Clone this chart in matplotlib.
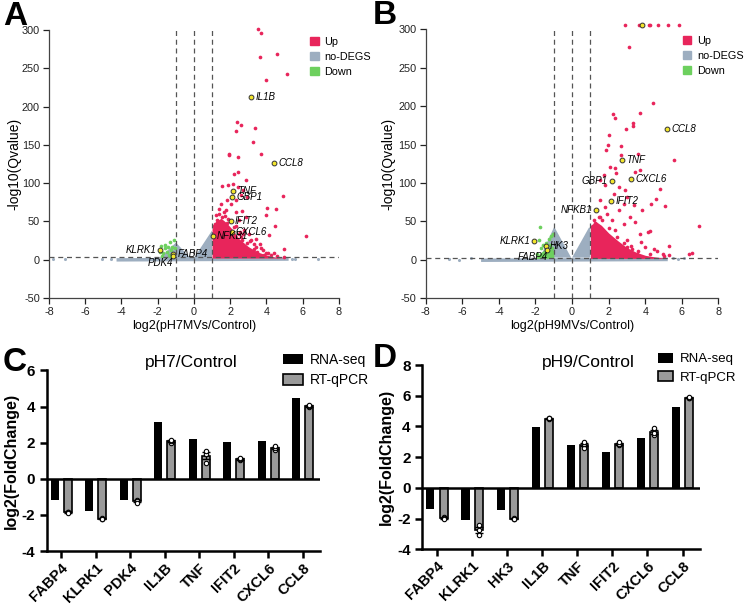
import numpy as np
import matplotlib.pyplot as plt
from matplotlib.patches import Patch

plt.rcParams['font.family'] = ['Liberation Sans', 'DejaVu Sans']
plt.rcParams['axes.unicode_minus'] = False

RED = "#E8255B"
GREY = "#9DAEC0"
GREEN = "#6DD05E"
YEL = "#F3E62C"

# ---------------- volcano A (pH7) ----------------
a_up_x = [3.54, 3.68, 4.57, 3.66, 5.12, 3.98, 2.39, 2.58, 3.35, 2.32, 3.26, 1.95, 1.95, 3.70,
          2.41, 2.45, 2.19, 2.87, 4.90, 1.55, 1.86, 2.15, 2.43, 2.73, 2.58, 2.95, 2.32, 1.84,
          1.47, 2.03, 1.38, 1.75, 2.30, 2.67, 2.85, 2.47, 4.53, 4.03, 3.96, 4.46, 4.16, 6.19,
          4.98, 3.96, 3.41, 3.04, 3.65, 2.95, 3.31, 3.87, 4.24, 4.60, 4.97, 3.50, 3.22, 2.67,
          2.76, 2.21, 2.49, 1.84, 1.57, 1.29, 1.10, 1.20, 1.65, 2.60, 3.10, 3.80, 4.40,
          1.40, 1.70, 2.00, 2.30, 2.70, 3.30, 3.70, 4.10, 1.15, 1.90, 2.55, 3.15, 3.45]
a_up_y = [301, 296.6, 268.6, 264.7, 243.3, 234.6, 179.7, 175.8, 172.7, 167.5, 153.5, 138.7,
          136.5, 138.2, 134.3, 114.7, 112.5, 104.2, 83.3, 96.8, 98.1, 99.4, 95, 90.7, 84, 82,
          77.6, 77.6, 73.3, 72.4, 66.7, 64.5, 62.4, 63.7, 55.8, 51.5, 66.7, 67.2, 58, 44, 31.8,
          30.5, 14, 9.2, 27.5, 34, 20, 21, 14.4, 5.7, 5.7, 4.4, 3.5, 10, 7.8, 25.3, 38.4, 42.7,
          34, 48, 55.8, 51.5, 44, 58, 62, 30, 24, 12, 8,
          60, 57, 50, 44, 33, 20, 15, 9, 47, 53, 36, 26, 17]
a_dense_x = [1.0, 1.2, 1.5, 1.8, 2.1, 2.5, 3.0, 3.5, 4.0, 4.5, 5.0]
a_dense_top = [40, 50, 54, 48, 40, 27, 17, 10, 6, 3, 2]
a_down_x = [-1.84, -1.58, -1.33, -1.10, -1.50, -1.70, -1.25, -1.40, -1.75, -1.20, -1.05,
            -1.60, -1.90, -1.30, -1.45]
a_down_y = [18, 14.8, 22.7, 25.3, 10, 8, 12, 6, 5, 17, 15, 19, 10, 4.5, 16]
a_nd_x = [-7.78, -7.14, -5.10, -4.60, 5.39, 5.60, 6.86]
a_nd_y = [1, 1, 1, 0.5, 1, 0.5, 1]
a_band = (-4.3, 5.2)
a_tri_left = ([-1.9, -1.0, -0.98, -0.2], [2, 22, 22, 2])
a_tri_right = ([0.0, 1.0, 1.0], [2, 38, 2])
a_lab_genes = ["IL1B", "CCL8", "TNF", "GBP1", "IFIT2", "CXCL6", "NFKB1", "KLRK1", "FABP4", "PDK4"]
a_lab_x = [3.17, 4.42, 2.14, 2.10, 2.03, 2.08, 1.03, -1.86, -1.14, -1.16]
a_lab_y = [212.8, 126, 90.3, 82, 50.6, 36.2, 30.5, 13, 7.8, 4.8]
a_lab_side = ["r", "r", "r", "r", "r", "r", "r", "l", "r", "bl"]

# ---------------- volcano B (pH9) ----------------
b_up_x = [2.91, 3.64, 4.19, 4.28, 4.68, 5.23, 5.85, 3.10, 4.43, 2.24, 2.33, 3.73, 2.97, 3.32,
          3.35, 2.04, 1.95, 1.88, 2.66, 2.70, 5.59, 3.59, 3.73, 3.46, 4.83, 4.59, 4.30, 5.10,
          6.92, 5.32, 6.56, 6.38, 2.09, 2.37, 1.73, 2.42, 1.55, 1.82, 2.55, 2.91, 2.28, 3.00,
          2.82, 1.55, 1.82, 2.55, 3.37, 3.83, 3.19, 2.82, 2.37, 3.46, 4.15, 4.24, 3.73, 3.00,
          3.77, 4.00, 4.46, 4.64, 3.28, 3.00, 4.97, 4.28, 3.55, 2.64, 2.28, 2.09, 1.73, 1.37,
          1.18, 1.55, 1.91, 2.19, 5.00, 5.30, 1.45, 1.65, 2.00, 2.45, 2.85, 3.20, 3.60, 1.25]
b_up_y = [305, 305, 305, 305, 305, 305, 305, 277, 204, 190, 184.5, 191, 170.5, 178, 173.6,
          162.7, 149.6, 143, 148.7, 136.5, 130, 137.4, 116.9, 113.8, 92, 79, 73.3, 69.8, 43.6,
          17.9, 8.7, 7.8, 121, 119, 110, 112.5, 103.8, 97.3, 95, 90.7, 86.4, 82, 73.3, 77.6,
          68.9, 64.5, 71, 64.5, 55.8, 47.1, 38.4, 49.3, 36.2, 37, 34, 25.3, 23.1, 16.6, 14.4,
          11.3, 14.4, 16.6, 7.8, 7.8, 7.8, 13.1, 18.8, 25.3, 34, 42.7, 51.5, 55.8, 60.2, 51.5,
          5, 6, 56, 52, 42, 30, 22, 18, 12, 48]
b_dense_x = [1.0, 1.3, 1.6, 2.0, 2.5, 3.0, 3.5, 4.0, 4.5, 5.0]
b_dense_top = [45, 50, 45, 35, 25, 16, 10, 6, 4, 2.5]
b_down_x = [-1.78, -1.82, -1.15, -1.07, -1.25, -1.60, -1.70, -1.50, -1.30, -1.10, -1.90,
            -1.20, -1.65, -1.40]
b_down_y = [42.7, 25.3, 31.4, 33.6, 27, 20, 15, 10, 8, 15, 8, 20, 5, 22]
b_down_fill_x = [-1.95, -1.7, -1.45, -1.2, -1.0]
b_down_fill_top = [4, 10, 14, 16, 12]
b_nd_x = [-6.75, -6.20, -5.50, 5.50, 5.80, 6.10]
b_nd_y = [1, 0.5, 2, 3, 1, 2]
b_band = (-5.0, 5.2)
b_tri_left = ([-1.75, -1.0, -0.95, -0.05], [3, 42, 42, 3])
b_tri_right = ([0.0, 0.92, 1.0, 1.0], [3, 42, 42, 3])
b_lab_genes = ["IL1B", "CCL8", "TNF", "GBP1", "CXCL6", "IFIT2", "NFKB1", "KLRK1", "HK3", "FABP4"]
b_lab_x = [3.83, 5.19, 2.75, 2.17, 3.22, 2.13, 1.33, -2.06, -1.44, -1.35]
b_lab_y = [305, 170.5, 130, 102.5, 104.7, 77.2, 65.4, 24.4, 17.9, 13.1]
b_lab_side = ["br", "r", "r", "l", "r", "r", "l", "l", "r", "bl"]

# ---------------- bar panels ----------------
c_genes = ["FABP4", "KLRK1", "PDK4", "IL1B", "TNF", "IFIT2", "CXCL6", "CCL8"]
c_rnaseq = [-1.18, -1.81, -1.17, 3.17, 2.23, 2.03, 2.12, 4.46]
c_qpcr_reps = [[-1.82, -1.86, -1.88], [-2.15, -2.22, -2.25], [-1.15, -1.25, -1.35],
               [2.00, 2.08, 2.16], [0.90, 1.38, 1.55], [1.02, 1.10, 1.16],
               [1.62, 1.72, 1.80], [3.95, 4.02, 4.10]]
d_genes = ["FABP4", "KLRK1", "HK3", "IL1B", "TNF", "IFIT2", "CXCL6", "CCL8"]
d_rnaseq = [-1.40, -2.11, -1.44, 3.94, 2.81, 2.32, 3.25, 5.27]
d_qpcr_reps = [[-1.92, -1.98, -2.02], [-2.40, -2.75, -3.08], [-1.98, -2.00, -2.03],
               [4.46, 4.52, 4.57], [2.60, 2.85, 3.00], [2.78, 2.85, 2.98],
               [3.45, 3.60, 3.93], [5.83, 5.88, 5.92]]


def volcano(ax, up_x, up_y, dense_x, dense_top, down_x, down_y, nd_x, nd_y, band,
            tri_l, tri_r, lab_g, lab_x, lab_y, lab_side, xlabel, ylab_x, leg_x,
            down_fill=None):
    ax.fill_between(band, [-2, -1], [2.5, 3.5], color=GREY, lw=0, zorder=1)
    ax.fill(tri_l[0], tri_l[1], color=GREY, lw=0, zorder=1)
    ax.fill(tri_r[0], tri_r[1], color=GREY, lw=0, zorder=1)
    ax.scatter(nd_x, nd_y, s=5, color=GREY, lw=0, zorder=1)
    if down_fill is not None:
        ax.fill_between(down_fill[0], 2, down_fill[1], color=GREEN, lw=0, zorder=2)
    ax.scatter(down_x, down_y, s=7, color=GREEN, lw=0, zorder=2)
    ax.fill_between(dense_x, 2, dense_top, color=RED, lw=0, zorder=2)
    ax.scatter(up_x, up_y, s=7, color=RED, lw=0, zorder=2, clip_on=False)
    for v in (-1, 0, 1):
        ax.axvline(v, color="#555555", ls=(0, (4, 3)), lw=0.9, zorder=3)
    ax.axhline(3, color="#555555", ls=(0, (4, 3)), lw=0.9, zorder=3)
    ax.scatter(lab_x, lab_y, s=12, color=YEL, edgecolor="#333333", lw=0.7, zorder=4,
               clip_on=False)
    for g, x, y, side in zip(lab_g, lab_x, lab_y, lab_side):
        if side == "r":
            ax.annotate(g, (x, y), xytext=(3, 0), textcoords="offset points", ha="left",
                        va="center", fontsize=7, style="italic", zorder=5)
        elif side == "l":
            ax.annotate(g, (x, y), xytext=(-3, 0), textcoords="offset points", ha="right",
                        va="center", fontsize=7, style="italic", zorder=5)
        elif side == "br":
            ax.annotate(g, (x, y), xytext=(1, -6), textcoords="offset points", ha="left",
                        va="center", fontsize=7, style="italic", zorder=5)
        else:
            ax.annotate(g, (x, y), xytext=(0, -5), textcoords="offset points", ha="right",
                        va="center", fontsize=7, style="italic", zorder=5)
    ax.set_xlim(-8, 8)
    ax.set_ylim(-50, 300)
    ax.set_xticks(range(-8, 9, 2))
    ax.set_yticks(range(-50, 301, 50))
    ax.tick_params(labelsize=7.8, colors="#222222", length=4, width=0.9, pad=2.5)
    for s in ("top", "right"):
        ax.spines[s].set_visible(False)
    for s in ("left", "bottom"):
        ax.spines[s].set_color("#444444")
        ax.spines[s].set_linewidth(0.9)
    ax.set_ylabel("-log10(Qvalue)", fontsize=10)
    ax.yaxis.set_label_coords(ylab_x, 0.5)
    ax.set_xlabel(xlabel, fontsize=9, labelpad=2)
    handles = [Patch(color=RED, label="Up"), Patch(color=GREY, label="no-DEGS"),
               Patch(color=GREEN, label="Down")]
    ax.legend(handles=handles, loc="upper left", bbox_to_anchor=(leg_x, 0.975), frameon=False,
              fontsize=7.8, handlelength=0.8, handleheight=0.8, handletextpad=0.5,
              labelspacing=0.45, borderaxespad=0, borderpad=0)


def barpanel(ax, genes, rnaseq, reps, title, ylim, yticks, title_x, title_y, leg_x, leg_y,
             leg_fs, leg_hl):
    x = np.arange(len(genes))
    means = [np.mean(r) for r in reps]
    sems = [np.std(r, ddof=1) / np.sqrt(len(r)) for r in reps]
    w = 0.23
    ax.bar(x - 0.19, rnaseq, width=w, color="black", zorder=2, label="RNA-seq")
    ax.bar(x + 0.19, means, width=w, color="#9A9A9A", edgecolor="black", lw=1.2, zorder=2,
           label="RT-qPCR")
    ax.errorbar(x + 0.19, means, yerr=sems, fmt="none", ecolor="black", elinewidth=1,
                capsize=3, capthick=1, zorder=3)
    for xi, r in zip(x, reps):
        ax.scatter([xi + 0.19] * len(r), r, s=10, facecolor="white", edgecolor="black",
                   lw=0.8, zorder=4)
    ax.axhline(0, color="black", lw=1.8, zorder=3)
    ax.set_xlim(-0.42, len(genes) - 0.5)
    ax.set_ylim(*ylim)
    ax.set_yticks(yticks)
    ax.set_xticks(x)
    ax.set_xticklabels(genes, rotation=45, ha="right", rotation_mode="anchor",
                       fontweight="bold", fontsize=10.5)
    ax.tick_params(axis="x", length=5, width=1.8, pad=2)
    ax.tick_params(axis="y", length=5, width=1.8, labelsize=11)
    for lab in ax.get_yticklabels():
        lab.set_fontweight("bold")
    for s in ("top", "right"):
        ax.spines[s].set_visible(False)
    for s in ("left", "bottom"):
        ax.spines[s].set_linewidth(1.8)
    ax.set_ylabel("log2(FoldChange)", fontsize=11.5, fontweight="bold", labelpad=2)
    ax.text(title_x, title_y, title, fontsize=12.5, ha="center", va="center",
            transform=ax.transAxes)
    ax.legend(loc="upper left", bbox_to_anchor=(leg_x, leg_y), frameon=False, fontsize=leg_fs,
              handlelength=leg_hl, handleheight=0.75, handletextpad=0.5, labelspacing=0.45,
              borderaxespad=0, borderpad=0)


fig = plt.figure(figsize=(7.45, 6.04), dpi=100)
axA = fig.add_axes([0.0658, 0.507, 0.389, 0.443])
axB = fig.add_axes([0.5714, 0.506, 0.393, 0.4455])
axC = fig.add_axes([0.0627, 0.0877, 0.367, 0.299])
axD = fig.add_axes([0.5669, 0.0906, 0.3728, 0.305])

volcano(axA, a_up_x, a_up_y, a_dense_x, a_dense_top, a_down_x, a_down_y, a_nd_x, a_nd_y,
        a_band, a_tri_left, a_tri_right, a_lab_genes, a_lab_x, a_lab_y, a_lab_side,
        "log2(pH7MVs/Control)", -0.097, 0.9)
volcano(axB, b_up_x, b_up_y, b_dense_x, b_dense_top, b_down_x, b_down_y, b_nd_x, b_nd_y,
        b_band, b_tri_left, b_tri_right, b_lab_genes, b_lab_x, b_lab_y, b_lab_side,
        "log2(pH9MVs/Control)", -0.105, 0.878, down_fill=(b_down_fill_x, b_down_fill_top))

barpanel(axC, c_genes, c_rnaseq, c_qpcr_reps, "pH7/Control", (-4, 6), range(-4, 7, 2),
         0.53, 1.046, 0.865, 1.096, 10, 1.4)
barpanel(axD, d_genes, d_rnaseq, d_qpcr_reps, "pH9/Control", (-4, 8), range(-4, 9, 2),
         0.597, 1.012, 0.85, 1.066, 9.5, 1.1)

for lbl, xx, yy in (("A", 0.004, 0.9594), ("B", 0.5, 0.961), ("C", 0.004, 0.386),
                    ("D", 0.5, 0.392)):
    fig.text(xx, yy, lbl, fontsize=24, fontweight="bold", ha="left", va="baseline")

fig.savefig("out.png", dpi=100)
